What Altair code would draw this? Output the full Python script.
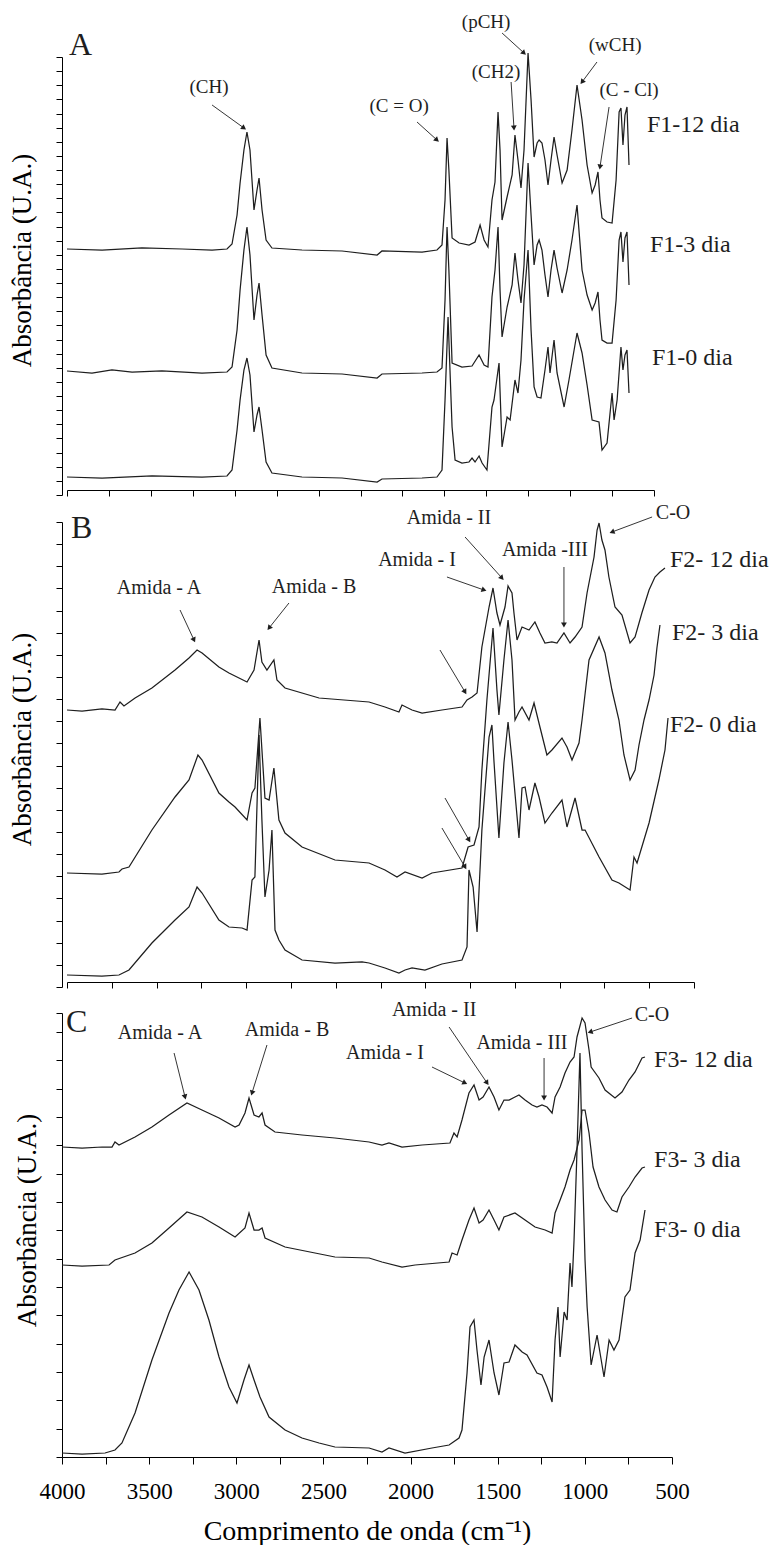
import math
import altair as alt
import pandas as pd

# ---------------- Panel A : F1 spectra (wavenumber cm-1 / absorbance, a.u.) ----------------
W_F1_12 = [4000, 3791, 3553, 3314, 3135, 3046, 3016, 2986, 2968, 2945, 2927, 2909, 2885, 2867, 2855, 2837, 2813, 2778, 2599, 2360,
           2151, 2122, 1883, 1794, 1764, 1746, 1734, 1723, 1704, 1662, 1603, 1567, 1537, 1513, 1490, 1466, 1448, 1430, 1418, 1406,
           1376, 1346, 1329, 1311, 1293, 1275, 1251, 1233, 1215, 1197, 1185, 1168, 1150, 1132, 1114, 1096, 1078, 1048, 1018, 989,
           959, 929, 899, 869, 851, 834, 822, 810, 780, 750, 726, 708, 697, 685, 673, 661, 649]
A_F1_12 = [241, 240, 242, 241, 240, 241, 246, 275, 307, 340, 358, 340, 280, 300, 312, 280, 250, 242, 240, 239,
           235, 239, 238, 240, 245, 290, 352, 320, 252, 247, 245, 248, 265, 250, 243, 290, 308, 378, 340, 270,
           293, 315, 355, 330, 302, 340, 437, 390, 333, 347, 350, 347, 330, 305, 330, 353, 335, 307, 320, 360,
           405, 370, 325, 297, 305, 318, 290, 272, 268, 267, 310, 378, 382, 345, 375, 383, 325]

W_F1_3 = [4000, 3851, 3732, 3612, 3434, 3195, 3046, 3016, 2986, 2968, 2945, 2927, 2909, 2885, 2867, 2855, 2837, 2813, 2778, 2599,
          2360, 2151, 2122, 1883, 1794, 1764, 1746, 1734, 1723, 1704, 1645, 1585, 1543, 1513, 1490, 1466, 1448, 1430, 1418, 1406,
          1376, 1346, 1329, 1311, 1293, 1275, 1251, 1233, 1215, 1197, 1185, 1168, 1150, 1132, 1114, 1096, 1078, 1048, 1018, 989,
          959, 929, 899, 869, 851, 834, 822, 810, 780, 750, 726, 708, 697, 685, 673, 661, 649]
A_F1_3 = [119, 117, 120, 118, 119, 117, 118, 123, 160, 200, 240, 263, 235, 170, 195, 207, 175, 135, 122, 117,
          116, 112, 116, 117, 118, 122, 190, 263, 220, 127, 123, 124, 135, 125, 123, 193, 220, 263, 200, 153,
          183, 205, 237, 210, 187, 225, 327, 275, 225, 245, 250, 240, 215, 193, 220, 240, 222, 197, 220, 250,
          285, 220, 195, 180, 187, 198, 170, 150, 147, 147, 190, 250, 258, 228, 252, 258, 205]

W_F1_0 = [4000, 3791, 3493, 3195, 3046, 3016, 2986, 2968, 2945, 2927, 2909, 2885, 2867, 2855, 2837, 2813, 2778, 2599, 2360, 2151,
          2122, 1883, 1794, 1764, 1746, 1728, 1704, 1686, 1645, 1603, 1585, 1567, 1543, 1525, 1496, 1466, 1454, 1424, 1406, 1376,
          1358, 1329, 1311, 1293, 1275, 1251, 1233, 1215, 1197, 1174, 1150, 1132, 1120, 1096, 1078, 1036, 1007, 959, 929, 899,
          869, 828, 810, 780, 750, 738, 720, 697, 685, 673, 661, 649]
A_F1_0 = [13, 12, 14, 13, 14, 20, 60, 90, 120, 132, 115, 58, 75, 83, 60, 28, 17, 13, 12, 8,
          11, 12, 13, 20, 90, 173, 63, 30, 27, 28, 32, 28, 34, 27, 20, 83, 90, 127, 43, 73,
          70, 110, 97, 130, 190, 240, 160, 103, 93, 92, 120, 143, 117, 150, 117, 83, 110, 157, 137, 105,
          70, 68, 40, 47, 97, 70, 90, 143, 120, 135, 140, 97]

# ---------------- Panel B : F2 spectra ----------------
W_F2_12 = [4000, 3916, 3805, 3732, 3704, 3682, 3620, 3526, 3397, 3319, 3274, 3246, 3152, 3096, 2995, 2956, 2928, 2912, 2884, 2845,
           2828, 2783, 2593, 2314, 2225, 2147, 2130, 2074, 2018, 1907, 1795, 1767, 1739, 1711, 1684, 1644, 1622, 1600, 1583, 1555,
           1538, 1516, 1505, 1488, 1460, 1421, 1388, 1360, 1332, 1293, 1265, 1226, 1192, 1164, 1125, 1097, 1058, 1041, 1030, 1014,
           997, 975, 941, 902, 857, 829, 791, 751, 718, 690, 662]
A_F2_12 = [272, 271, 273, 272, 280, 276, 284, 294, 312, 324, 332, 329, 315, 309, 300, 312, 342, 320, 312, 322,
           302, 294, 284, 280, 275, 270, 277, 272, 269, 272, 275, 282, 285, 289, 335, 375, 394, 369, 357, 375,
           396, 389, 369, 342, 355, 352, 360, 349, 339, 340, 339, 349, 339, 345, 355, 389, 425, 452, 459, 442,
           432, 405, 375, 367, 339, 345, 369, 392, 405, 410, 414]

W_F2_3 = [4000, 3805, 3710, 3693, 3654, 3526, 3397, 3319, 3269, 3246, 3152, 3096, 3062, 2995, 2967, 2951, 2923, 2895, 2872, 2845,
          2817, 2783, 2688, 2504, 2314, 2225, 2158, 2113, 2018, 1963, 1795, 1761, 1728, 1700, 1684, 1656, 1622, 1600, 1589, 1561,
          1538, 1516, 1499, 1477, 1460, 1421, 1393, 1360, 1321, 1293, 1237, 1209, 1181, 1142, 1125, 1086, 1030, 997, 958, 919,
          891, 857, 829, 807, 779, 751, 723, 707, 690]
A_F2_3 = [109, 108, 110, 113, 115, 152, 185, 202, 227, 222, 189, 180, 175, 162, 189, 194, 264, 184, 182, 214,
          162, 149, 135, 122, 119, 112, 105, 110, 104, 109, 114, 135, 137, 155, 212, 282, 354, 292, 267, 322,
          362, 322, 262, 270, 275, 262, 279, 255, 227, 232, 244, 235, 222, 239, 262, 322, 345, 329, 292, 262,
          227, 202, 212, 237, 262, 282, 307, 334, 357]

W_F2_0 = [4000, 3805, 3710, 3654, 3526, 3397, 3319, 3274, 3246, 3152, 3096, 3023, 2995, 2967, 2951, 2928, 2912, 2895, 2872, 2856,
          2839, 2817, 2783, 2688, 2504, 2353, 2314, 2225, 2147, 2113, 2074, 2002, 1907, 1795, 1767, 1756, 1733, 1711, 1684, 1644,
          1628, 1617, 1589, 1561, 1538, 1516, 1477, 1460, 1443, 1421, 1388, 1365, 1332, 1293, 1237, 1209, 1164, 1125, 1108, 1030,
          958, 919, 857, 835, 818, 751, 696, 662, 645]
A_F2_0 = [7, 6, 7, 12, 39, 62, 75, 95, 89, 62, 55, 54, 52, 102, 105, 247, 162, 85, 112, 152,
          52, 42, 32, 22, 19, 20, 19, 14, 9, 12, 14, 12, 18, 22, 35, 112, 95, 50, 152, 245,
          257, 222, 144, 219, 260, 222, 144, 194, 195, 172, 199, 185, 159, 169, 182, 155, 184, 152, 152, 125,
          102, 99, 92, 125, 119, 159, 202, 232, 264]

# ---------------- Panel C : F3 spectra ----------------
W_F3_12 = [4000, 3885, 3770, 3713, 3696, 3673, 3581, 3484, 3386, 3283, 3197, 3099, 3007, 2984, 2950, 2927, 2898, 2870, 2852, 2835,
           2778, 2623, 2434, 2238, 2164, 2124, 2049, 1934, 1774, 1751, 1733, 1705, 1665, 1636, 1607, 1584, 1550, 1521, 1493, 1464,
           1435, 1401, 1378, 1343, 1303, 1275, 1246, 1217, 1188, 1171, 1142, 1114, 1085, 1062, 1045, 1016, 999, 976, 964, 919,
           884, 827, 787, 747, 712, 672, 655]
A_F3_12 = [310, 309, 310, 310, 315, 312, 320, 330, 342, 354, 347, 339, 330, 332, 344, 359, 342, 340, 344, 332,
           325, 322, 319, 315, 312, 314, 310, 312, 314, 324, 320, 337, 364, 372, 357, 360, 370, 360, 347, 357,
           357, 360, 362, 357, 352, 350, 352, 350, 344, 360, 370, 384, 395, 400, 420, 439, 434, 407, 390, 379,
           367, 359, 365, 377, 385, 399, 400]

W_F3_3 = [4000, 3885, 3730, 3696, 3581, 3484, 3386, 3283, 3197, 3099, 3007, 2950, 2927, 2898, 2870, 2852, 2835, 2720, 2434, 2238,
          2164, 2049, 1974, 1779, 1762, 1733, 1705, 1665, 1636, 1607, 1584, 1550, 1521, 1493, 1464, 1401, 1343, 1286, 1228, 1188,
          1171, 1142, 1114, 1085, 1062, 1033, 1016, 999, 976, 953, 919, 884, 844, 816, 787, 747, 712, 672, 655]
A_F3_3 = [192, 191, 192, 197, 204, 214, 229, 245, 240, 230, 220, 229, 244, 227, 227, 229, 219, 210, 200, 199,
          195, 190, 192, 195, 204, 202, 217, 237, 249, 234, 237, 247, 237, 227, 240, 244, 237, 230, 227, 224,
          244, 257, 270, 287, 297, 317, 347, 347, 324, 290, 270, 257, 247, 245, 260, 270, 280, 289, 290]

W_F3_0 = [4000, 3885, 3753, 3696, 3656, 3581, 3484, 3386, 3329, 3271, 3214, 3157, 3099, 3042, 2996, 2956, 2927, 2898, 2864, 2812,
          2720, 2623, 2525, 2434, 2238, 2164, 2124, 2032, 1877, 1779, 1722, 1705, 1676, 1659, 1636, 1619, 1596, 1578, 1550, 1521,
          1493, 1464, 1435, 1401, 1360, 1332, 1275, 1246, 1217, 1188, 1171, 1154, 1142, 1119, 1102, 1085, 1074, 1062, 1045, 1028,
          1016, 999, 987, 964, 930, 890, 861, 833, 804, 770, 741, 712, 683, 655]
A_F3_0 = [4, 3, 4, 7, 14, 44, 97, 144, 167, 185, 167, 137, 100, 70, 54, 77, 92, 77, 60, 40,
          27, 19, 14, 10, 9, 5, 9, 4, 9, 12, 19, 27, 84, 130, 137, 107, 72, 100, 117, 84,
          62, 94, 95, 112, 105, 102, 84, 82, 70, 55, 117, 150, 100, 145, 137, 194, 170, 217, 307, 404,
          307, 197, 150, 92, 122, 80, 117, 107, 117, 160, 167, 204, 217, 247]

X_TICKS = [4000, 3750, 3500, 3250, 3000, 2750, 2500, 2250, 2000, 1750, 1500, 1250, 1000, 750, 500]

# annotations: (text, wavenumber, absorbance)
NOTES_A = [("(CH)", 3153, 403), ("(C = O)", 2020, 384), ("(pCH)", 1501, 468),
           ("(CH2)", 1442, 418), ("(wCH)", 732, 445), ("(C - Cl)", 649, 400)]
SERIES_A = [("F1-12 dia", 542, 365), ("F1-3 dia", 524, 245), ("F1-0 dia", 512, 132)]
LETTER_A = [("A", 3988, 435)]
ARROWS_A = [(3135, 385, 2945, 362), (1913, 368, 1794, 350), (1406, 457, 1275, 437),
            (1352, 408, 1335, 362), (840, 428, 929, 408), (768, 383, 822, 323)]

NOTES_B = [("Amida - A", 3486, 394), ("Amida - B", 2621, 395), ("Amida - I", 2046, 422),
           ("Amida - II", 1868, 464), ("Amida -III", 1332, 432), ("C-O", 617, 469)]
SERIES_B = [("F2- 12 dia", 634, 422), ("F2- 3 dia", 623, 349), ("F2- 0 dia", 634, 257)]
LETTER_B = [("B", 3978, 444)]
ARROWS_B = [(3369, 372, 3291, 342), (2761, 379, 2872, 354), (1879, 405, 1672, 392),
            (1778, 445, 1572, 404), (1226, 415, 1226, 357), (734, 465, 958, 450),
            (1918, 332, 1778, 290), (1890, 184, 1756, 142), (1907, 154, 1778, 115)]

NOTES_C = [("Amida - A", 3438, 424), ("Amida - B", 2709, 427), ("Amida - I", 2147, 404),
           ("Amida - II", 1865, 447), ("Amida - III", 1361, 414), ("C-O", 615, 442)]
SERIES_C = [("F3- 12 dia", 603, 397), ("F3- 3 dia", 603, 297), ("F3- 0 dia", 603, 227)]
LETTER_C = [("C", 3977, 425)]
ARROWS_C = [(3357, 404, 3294, 360), (2824, 412, 2910, 364), (1877, 390, 1688, 374),
            (1779, 430, 1561, 374), (1234, 399, 1234, 359), (729, 439, 970, 425)]

FONT = "Liberation Serif"
INK = "#1e1e1e"


def spectra_df(series):
    rows = []
    for name, ws, vals in series:
        for w, v in zip(ws, vals):
            rows.append({"serie": name, "w": w, "h": v})
    return pd.DataFrame(rows)


def panel(series, notes, labels, letter, arrows, xrange, ymax, yticks, height, ytop,
          axis_pos, title_pad, title_y, bottom_labels, note_size):
    xs = alt.Scale(domain=[4000, 500], range=xrange, nice=False, zero=False)
    ys = alt.Scale(domain=[0, ymax], range=[height, ytop], nice=False, zero=False)
    if bottom_labels:
        xa = alt.Axis(values=X_TICKS, title="Comprimento de onda (cm⁻¹)", format="d",
                      labelExpr="datum.value % 500 == 0 ? datum.label : ''",
                      labelFontSize=23, labelPadding=16, labelFlush=False, labelOverlap=False,
                      tickSize=7, titleFontSize=28, titlePadding=14)
    else:
        xa = alt.Axis(values=X_TICKS, title=None, labels=False, tickSize=6)
    ya = alt.Axis(values=yticks, labels=False, tickSize=6, title="Absorbância (U.A.)",
                  titleFontSize=27, titlePadding=title_pad, titleY=title_y, position=axis_pos)

    def X(f):
        return alt.X(f, type="quantitative", scale=xs, axis=xa)

    def Y(f):
        return alt.Y(f, type="quantitative", scale=ys, axis=ya)

    kx = (xrange[1] - xrange[0]) / (500 - 4000)
    ky = (height - ytop) / ymax
    arr_rows = []
    for w0, h0, w1, h1 in arrows:
        dx = (w1 - w0) * kx
        dy = -(h1 - h0) * ky
        ang = math.degrees(math.atan2(dx, -dy)) % 360
        arr_rows.append({"w0": w0, "h0": h0, "w": w1, "h": h1, "ang": ang})
    arr_df = pd.DataFrame(arr_rows)

    lines = alt.Chart(spectra_df(series)).mark_line(color=INK, strokeWidth=1.25).encode(
        x=X("w"), y=Y("h"), detail="serie:N")
    rules = alt.Chart(arr_df).mark_rule(color=INK, strokeWidth=0.9).encode(
        x=X("w0"), y=Y("h0"), x2="w", y2="h")
    heads = alt.Chart(arr_df).mark_point(shape="triangle-up", filled=True, size=34, color=INK,
                                         opacity=1).encode(
        x=X("w"), y=Y("h"), angle=alt.Angle("ang:Q", scale=None))
    note_df = pd.DataFrame(notes, columns=["label", "w", "h"])
    note_t = alt.Chart(note_df).mark_text(font=FONT, fontSize=note_size, color=INK, align="center",
                                          baseline="middle").encode(x=X("w"), y=Y("h"), text="label:N")
    lab_df = pd.DataFrame(labels, columns=["label", "w", "h"])
    lab_t = alt.Chart(lab_df).mark_text(font=FONT, fontSize=24, color=INK, align="left",
                                        baseline="middle").encode(x=X("w"), y=Y("h"), text="label:N")
    let_df = pd.DataFrame(letter, columns=["label", "w", "h"])
    let_t = alt.Chart(let_df).mark_text(font=FONT, fontSize=32, color=INK, align="left",
                                        baseline="alphabetic").encode(x=X("w"), y=Y("h"), text="label:N")
    return alt.layer(lines, rules, heads, note_t, lab_t, let_t).properties(width=712, height=height)


pa = panel([("F1-12", W_F1_12, A_F1_12), ("F1-3", W_F1_3, A_F1_3), ("F1-0", W_F1_0, A_F1_0)],
           NOTES_A, SERIES_A, LETTER_A, ARROWS_A, xrange=[5, 592], ymax=438,
           yticks=[round(k * 438 / 31, 3) for k in range(32)], height=485, ytop=47,
           axis_pos=5, title_pad=19, title_y=250, bottom_labels=False, note_size=19)
pb = panel([("F2-12", W_F2_12, A_F2_12), ("F2-3", W_F2_3, A_F2_3), ("F2-0", W_F2_0, A_F2_0)],
           NOTES_B, SERIES_B, LETTER_B, ARROWS_B, xrange=[5, 632], ymax=465,
           yticks=[round(k * 465 / 21, 3) for k in range(22)], height=492, ytop=27,
           axis_pos=5, title_pad=19, title_y=244, bottom_labels=False, note_size=20)
pc = panel([("F3-12", W_F3_12, A_F3_12), ("F3-3", W_F3_3, A_F3_3), ("F3-0", W_F3_0, A_F3_0)],
           NOTES_C, SERIES_C, LETTER_C, ARROWS_C, xrange=[0, 610], ymax=444,
           yticks=[round(k * 28.33, 3) for k in range(16)] + [444], height=475, ytop=31,
           axis_pos=0, title_pad=14, title_y=238, bottom_labels=True, note_size=20)

chart = alt.vconcat(pa, pb, pc, spacing=0, bounds="flush").properties(
    padding={"left": 8, "top": 5, "right": 0, "bottom": 0}
).configure_view(stroke=None).configure_axis(
    domainColor="black", tickColor="black", labelColor="black", titleColor="black",
    labelFont=FONT, titleFont=FONT, titleFontWeight="normal", grid=False,
    domainWidth=1, tickWidth=1
)

chart.save("out.html", embed_options={"renderer": "svg", "actions": False})
